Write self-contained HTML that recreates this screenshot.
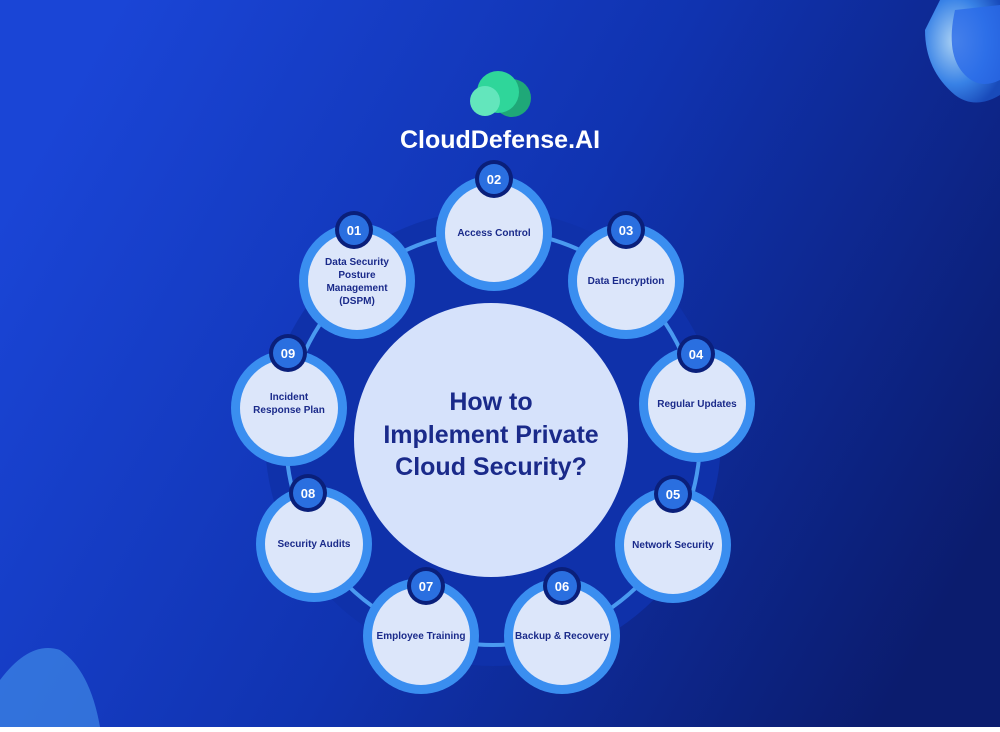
<!DOCTYPE html>
<html><head><style>
body{margin:0;width:1000px;height:727px;overflow:hidden;font-family:"Liberation Sans",sans-serif}
</style></head><body>
<svg width="1000" height="727" viewBox="0 0 1000 727" xmlns="http://www.w3.org/2000/svg">
<defs>
<linearGradient id="bg" x1="0" y1="0.3" x2="1" y2="0.7">
<stop offset="0" stop-color="#1a45d6"/><stop offset="0.5" stop-color="#1033b0"/><stop offset="1" stop-color="#0b1c6e"/>
</linearGradient>
<radialGradient id="sh" cx="0.4" cy="0.4" r="0.7"><stop offset="0" stop-color="#bfe6ff"/><stop offset="0.6" stop-color="#3d8cf0"/><stop offset="1" stop-color="#1a4fc0"/></radialGradient>
</defs>
<rect width="1000" height="727" fill="url(#bg)"/>
<!-- corner shields -->
<path d="M940 0 L1000 0 L1000 95 Q975 110 955 95 Q925 70 925 30 Z" fill="url(#sh)" opacity="0.9"/>
<path d="M955 10 L1000 5 L1000 80 Q980 90 965 75 Q945 55 955 10 Z" fill="#2a6ae8" opacity="0.8"/>
<path d="M0 680 Q30 640 60 650 Q90 670 100 727 L0 727 Z" fill="#4a9ef0" opacity="0.55"/>
<!-- logo -->
<circle cx="512" cy="98" r="19" fill="#1fa878"/>
<circle cx="498" cy="92" r="21" fill="#2fd69a"/>
<circle cx="485" cy="101" r="15" fill="#63e6bc"/>
<text x="500" y="148" text-anchor="middle" font-size="25" font-weight="bold" fill="#fff">CloudDefense.AI</text>
<!-- ring -->
<circle cx="493" cy="438" r="228" fill="#0f31aa"/>
<circle cx="493" cy="438" r="207" fill="none" stroke="#4a9af0" stroke-width="4"/>
<circle cx="491" cy="440" r="137" fill="#d6e2fb"/>
<g font-size="25" font-weight="bold" fill="#1a2a8a" text-anchor="middle">
<text x="491" y="410">How to</text>
<text x="491" y="443">Implement Private</text>
<text x="491" y="475">Cloud Security?</text>
</g>
<g id="nodes" font-weight="bold" fill="#1a2a8a" text-anchor="middle" font-size="10">
<g transform="translate(357,281)"><circle r="58" fill="#3a8ef0"/><circle r="49" fill="#dce6fa"/>
<text y="-16">Data Security</text><text y="-3">Posture</text><text y="10">Management</text><text y="23">(DSPM)</text></g>
<g transform="translate(494,233)"><circle r="58" fill="#3a8ef0"/><circle r="49" fill="#dce6fa"/><text y="3">Access Control</text></g>
<g transform="translate(626,281)"><circle r="58" fill="#3a8ef0"/><circle r="49" fill="#dce6fa"/><text y="3">Data Encryption</text></g>
<g transform="translate(697,404)"><circle r="58" fill="#3a8ef0"/><circle r="49" fill="#dce6fa"/><text y="3">Regular Updates</text></g>
<g transform="translate(673,545)"><circle r="58" fill="#3a8ef0"/><circle r="49" fill="#dce6fa"/><text y="3">Network Security</text></g>
<g transform="translate(562,636)"><circle r="58" fill="#3a8ef0"/><circle r="49" fill="#dce6fa"/><text y="3">Backup &amp; Recovery</text></g>
<g transform="translate(421,636)"><circle r="58" fill="#3a8ef0"/><circle r="49" fill="#dce6fa"/><text y="3">Employee Training</text></g>
<g transform="translate(314,544)"><circle r="58" fill="#3a8ef0"/><circle r="49" fill="#dce6fa"/><text y="3">Security Audits</text></g>
<g transform="translate(289,408)"><circle r="58" fill="#3a8ef0"/><circle r="49" fill="#dce6fa"/><text y="-8">Incident</text><text y="5">Response Plan</text></g>
</g>
<g font-size="13" font-weight="bold" fill="#fff" text-anchor="middle">
<g transform="translate(354,230)"><circle r="19" fill="#0a1f7a"/><circle r="15" fill="#2a6fe0"/><text y="5">01</text></g>
<g transform="translate(494,179)"><circle r="19" fill="#0a1f7a"/><circle r="15" fill="#2a6fe0"/><text y="5">02</text></g>
<g transform="translate(626,230)"><circle r="19" fill="#0a1f7a"/><circle r="15" fill="#2a6fe0"/><text y="5">03</text></g>
<g transform="translate(696,354)"><circle r="19" fill="#0a1f7a"/><circle r="15" fill="#2a6fe0"/><text y="5">04</text></g>
<g transform="translate(673,494)"><circle r="19" fill="#0a1f7a"/><circle r="15" fill="#2a6fe0"/><text y="5">05</text></g>
<g transform="translate(562,586)"><circle r="19" fill="#0a1f7a"/><circle r="15" fill="#2a6fe0"/><text y="5">06</text></g>
<g transform="translate(426,586)"><circle r="19" fill="#0a1f7a"/><circle r="15" fill="#2a6fe0"/><text y="5">07</text></g>
<g transform="translate(308,493)"><circle r="19" fill="#0a1f7a"/><circle r="15" fill="#2a6fe0"/><text y="5">08</text></g>
<g transform="translate(288,353)"><circle r="19" fill="#0a1f7a"/><circle r="15" fill="#2a6fe0"/><text y="5">09</text></g>
</g>
</svg>
</body></html>
